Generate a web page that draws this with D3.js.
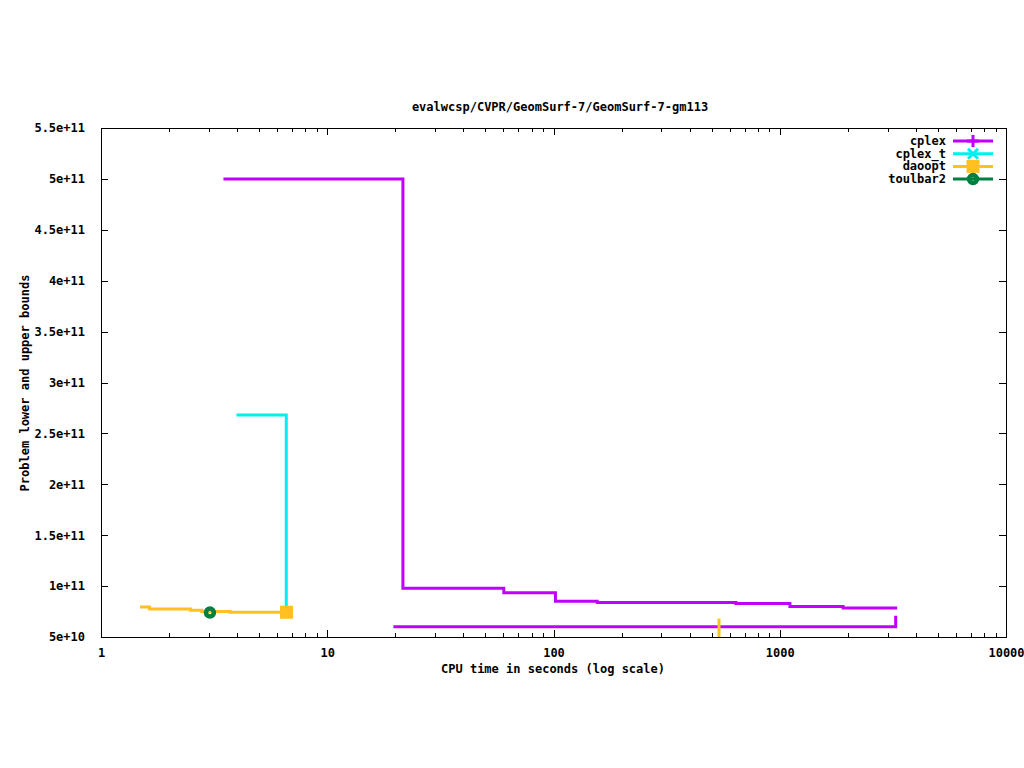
<!DOCTYPE html>
<html>
<head>
<meta charset="utf-8">
<script src="https://cdn.jsdelivr.net/npm/d3@7"></script>
<style>
  html, body { margin: 0; padding: 0; background: #fff; }
  text { font-family: "DejaVu Sans Mono", monospace; font-size: 12px; font-weight: bold; fill: #000; }
</style>
</head>
<body>
<svg id="chart" width="1024" height="768"></svg>
<script>
// ---- data ----
const titleText = "evalwcsp/CVPR/GeomSurf-7/GeomSurf-7-gm113";
const xLabel = "CPU time in seconds (log scale)";
const yLabel = "Problem lower and upper bounds";
const xTicks = [1, 10, 100, 1000, 10000];
const xTickLabels = ["1", "10", "100", "1000", "10000"];
const yTicks = [5e10, 1e11, 1.5e11, 2e11, 2.5e11, 3e11, 3.5e11, 4e11, 4.5e11, 5e11, 5.5e11];
const yTickLabels = ["5e+10", "1e+11", "1.5e+11", "2e+11", "2.5e+11", "3e+11", "3.5e+11", "4e+11", "4.5e+11", "5e+11", "5.5e+11"];

const seriesNames = ["cplex", "cplex_t", "daoopt", "toulbar2"];
const seriesColors = ["#c000ff", "#00f0f0", "#ffc020", "#008040"];

const cplexUpperT = [3.53, 21.6, 60.3, 102, 156, 640, 1109, 1906, 3254];
const cplexUpperV = [5.0e11, 9.8e10, 9.35e10, 8.5e10, 8.4e10, 8.3e10, 8.0e10, 7.85e10, 7.85e10];
const cplexLowerT = [19.9, 3254];
const cplexLowerV = [6.0e10, 6.93e10];

const cplexTT = [4.03, 6.59];
const cplexTV = [2.68e11, 7.5e10];

const daooptT = [1.51, 1.64, 2.49, 2.79, 3.72, 6.61];
const daooptV = [7.95e10, 7.75e10, 7.62e10, 7.5e10, 7.43e10, 7.43e10];
const daooptLowT = [539, 539];
const daooptLowV = [5.0e10, 6.8e10];

const toulbarT = [3.03];
const toulbarV = [7.4e10];

// ---- layout ----
const svg = d3.select("#chart");
const L = 101, R = 1006, T = 128, B = 637;
const x = d3.scaleLog().domain([1, 10000]).range([L, R]);
const y = d3.scaleLinear().domain([5e10, 5.5e11]).range([B, T]);

// frame
svg.append("rect").attr("x", L).attr("y", T).attr("width", R - L).attr("height", B - T)
  .attr("fill", "none").attr("stroke", "#000").attr("stroke-width", 1).attr("shape-rendering", "crispEdges");

// axes with inward ticks
const minorX = [];
for (let d = 1; d < 10000; d *= 10) for (let k = 2; k <= 9; k++) minorX.push(d * k);

const bottomAxis = d3.axisBottom(x).tickValues(xTicks).tickSize(-7).tickFormat((d, i) => xTickLabels[i]).tickPadding(11);
const gb = svg.append("g").attr("transform", `translate(0,${B})`).call(bottomAxis);
gb.select(".domain").remove();
const gbm = svg.append("g").attr("transform", `translate(0,${B})`).call(d3.axisBottom(x).tickValues(minorX).tickSize(-4).tickFormat(""));
gbm.select(".domain").remove();
const gt = svg.append("g").attr("transform", `translate(0,${T})`).call(d3.axisTop(x).tickValues(xTicks).tickSize(-7).tickFormat(""));
gt.select(".domain").remove();
const gtm = svg.append("g").attr("transform", `translate(0,${T})`).call(d3.axisTop(x).tickValues(minorX).tickSize(-4).tickFormat(""));
gtm.select(".domain").remove();

const gl = svg.append("g").attr("transform", `translate(${L},0)`)
  .call(d3.axisLeft(y).tickValues(yTicks).tickSize(-7).tickFormat((d, i) => yTickLabels[i]).tickPadding(16));
gl.select(".domain").remove();
const gr = svg.append("g").attr("transform", `translate(${R},0)`)
  .call(d3.axisRight(y).tickValues(yTicks).tickSize(-7).tickFormat(""));
gr.select(".domain").remove();
svg.selectAll(".tick line").attr("stroke", "#000").attr("shape-rendering", "crispEdges");
svg.selectAll(".tick text").attr("font-family", null).attr("font-size", null);

// titles
svg.append("text").attr("x", 560).attr("y", 111).attr("text-anchor", "middle").text(titleText);
svg.append("text").attr("x", 553).attr("y", 673).attr("text-anchor", "middle").text(xLabel);
svg.append("text").attr("transform", "translate(29,383) rotate(-90)").attr("text-anchor", "middle").text(yLabel);

// lines
const plot = svg.append("g");
const stepLine = d3.line().x(d => x(d[0])).y(d => y(d[1])).curve(d3.curveStepAfter);
function drawSeries(ts, vs, color) {
  const pts = ts.map((t, i) => [t, vs[i]]);
  plot.append("path").attr("d", stepLine(pts)).attr("fill", "none")
    .attr("stroke", color).attr("stroke-width", 3).attr("stroke-linejoin", "miter").attr("stroke-linecap", "square");
}
drawSeries(cplexUpperT, cplexUpperV, seriesColors[0]);
drawSeries(cplexLowerT, cplexLowerV, seriesColors[0]);
drawSeries(cplexTT, cplexTV, seriesColors[1]);

// marker drawers
function marker(g, kind, cx, cy, color) {
  if (kind === "plus") {
    g.append("path").attr("d", `M${cx - 6},${cy}H${cx + 6}M${cx},${cy - 6}V${cy + 6}`)
      .attr("stroke", color).attr("stroke-width", 3).attr("fill", "none");
  } else if (kind === "cross") {
    g.append("path").attr("d", `M${cx - 5},${cy - 5}L${cx + 5},${cy + 5}M${cx - 5},${cy + 5}L${cx + 5},${cy - 5}`)
      .attr("stroke", color).attr("stroke-width", 3).attr("fill", "none");
  } else if (kind === "square") {
    g.append("rect").attr("x", cx - 6.5).attr("y", cy - 6.5).attr("width", 13).attr("height", 13).attr("fill", color);
  } else if (kind === "circle") {
    g.append("circle").attr("cx", cx).attr("cy", cy).attr("r", 4).attr("fill", "none")
      .attr("stroke", color).attr("stroke-width", 4.5);
  }
}
marker(plot, "cross", x(cplexTT[cplexTT.length - 1]), y(cplexTV[cplexTV.length - 1]), seriesColors[1]);
drawSeries(daooptT, daooptV, seriesColors[2]);
plot.append("path").attr("d", d3.line().x(d => x(d[0])).y(d => y(d[1])) (daooptLowT.map((t, i) => [t, daooptLowV[i]])))
  .attr("stroke", seriesColors[2]).attr("stroke-width", 3).attr("fill", "none");
marker(plot, "square", x(daooptT[daooptT.length - 1]), y(daooptV[daooptV.length - 1]), seriesColors[2]);
toulbarT.forEach((t, i) => marker(plot, "circle", x(t), y(toulbarV[i]), seriesColors[3]));

// legend
const kinds = ["plus", "cross", "square", "circle"];
const legend = svg.append("g");
seriesNames.forEach((name, i) => {
  const ly = 141 + i * 12.7;
  legend.append("text").attr("x", 946).attr("y", ly + 4).attr("text-anchor", "end").text(name);
  legend.append("line").attr("x1", 953).attr("x2", 993).attr("y1", ly).attr("y2", ly)
    .attr("stroke", seriesColors[i]).attr("stroke-width", 3);
  marker(legend, kinds[i], 973, ly, seriesColors[i]);
});
</script>
</body>
</html>
